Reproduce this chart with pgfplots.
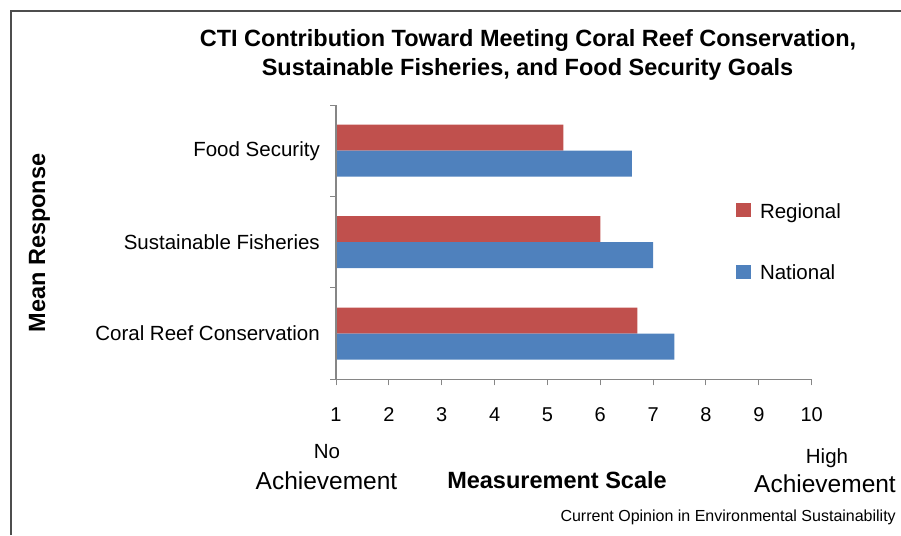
\documentclass[border=0pt]{standalone}
\usepackage{fontspec}
\setmainfont{Liberation Sans}
\usepackage{pgfplots}
\pgfplotsset{compat=1.18}

\definecolor{regional}{HTML}{C0504D}
\definecolor{national}{HTML}{4F81BD}
\definecolor{axisgray}{HTML}{868686}
\definecolor{framegray}{HTML}{4D4D4D}

\begin{document}
\begin{tikzpicture}
% page = 901 x 535 (1pt = 1px), y measured downwards from the top
\path[use as bounding box] (0pt,0pt) rectangle (901pt,-535pt);
\draw[framegray, line width=2pt] (11pt,-535pt) -- (11pt,-11pt) -- (901pt,-11pt);

\begin{axis}[
    at={(336pt,-379.3pt)}, anchor=south west,
    scale only axis,
    width=475.7pt, height=274.3pt,
    xbar, bar width=26pt,
    xmin=1, xmax=10,
    ymin=-0.5, ymax=2.5,
    axis x line*=bottom, axis y line*=left,
    axis on top,
    axis line style={draw=axisgray, line width=1.3pt},
    xtick={1,2,...,10},
    ytick={0,1,2},
    yticklabels={Coral Reef Conservation, Sustainable Fisheries, Food Security},
    minor ytick={-0.5,0.5,1.5,2.5},
    tick align=outside,
    major tick length=6pt, minor tick length=6pt,
    tick style={draw=axisgray, line width=1pt},
    major y tick style={draw=none},
    /pgf/number format/assume math mode=true,
    xticklabel style={font=\fontsize{20}{24}\selectfont, inner sep=0pt, anchor=base, yshift=-36pt},
    yticklabel style={font=\fontsize{20.5}{24}\selectfont, inner sep=0pt, anchor=east, xshift=-10pt},
    legend style={draw=none, fill=none, inner sep=0pt, outer sep=0pt,
        at={(0.8409,0.643)}, anchor=north west,
        nodes={inner sep=0pt},
        row sep=45pt, font=\fontsize{20.5}{24}\selectfont},
    legend cell align=left,
]
\addplot[fill=regional, draw=none, bar shift=13pt,
    legend image code/.code={\fill[regional] (0pt,-6pt) rectangle (15pt,8.5pt); \path (24pt,0pt);}]
    coordinates {(6.7,0) (6.0,1) (5.3,2)};
\addplot[fill=national, draw=none, bar shift=-13pt,
    legend image code/.code={\fill[national] (0pt,-6pt) rectangle (15pt,8.5pt); \path (24pt,0pt);}]
    coordinates {(7.4,0) (7.0,1) (6.6,2)};
\legend{Regional, National}
\end{axis}

% title
\node[anchor=base, font=\bfseries\fontsize{23.5}{28}\selectfont] at (528pt,-46pt)
    {CTI Contribution Toward Meeting Coral Reef Conservation,};
\node[anchor=base, font=\bfseries\fontsize{23.5}{28}\selectfont] at (527.5pt,-75pt)
    {Sustainable Fisheries, and Food Security Goals};

% axis titles
\node[rotate=90, anchor=base, font=\bfseries\fontsize{23.5}{28}\selectfont] at (45pt,-243pt) {Mean Response};
\node[anchor=base, font=\bfseries\fontsize{23.5}{28}\selectfont] at (557pt,-488pt) {Measurement Scale};

% scale ends
\node[anchor=base, font=\fontsize{20.5}{24}\selectfont] at (327pt,-458pt) {No};
\node[anchor=base, font=\fontsize{24.5}{29}\selectfont] at (326.5pt,-489pt) {Achievement};
\node[anchor=base, font=\fontsize{20.5}{24}\selectfont] at (827pt,-463pt) {High};
\node[anchor=base, font=\fontsize{24.5}{29}\selectfont] at (825pt,-492pt) {Achievement};

% source
\node[anchor=base east, inner sep=0pt, font=\fontsize{16}{19}\selectfont] at (896pt,-521pt)
    {Current Opinion in Environmental Sustainability};
\end{tikzpicture}
\end{document}
